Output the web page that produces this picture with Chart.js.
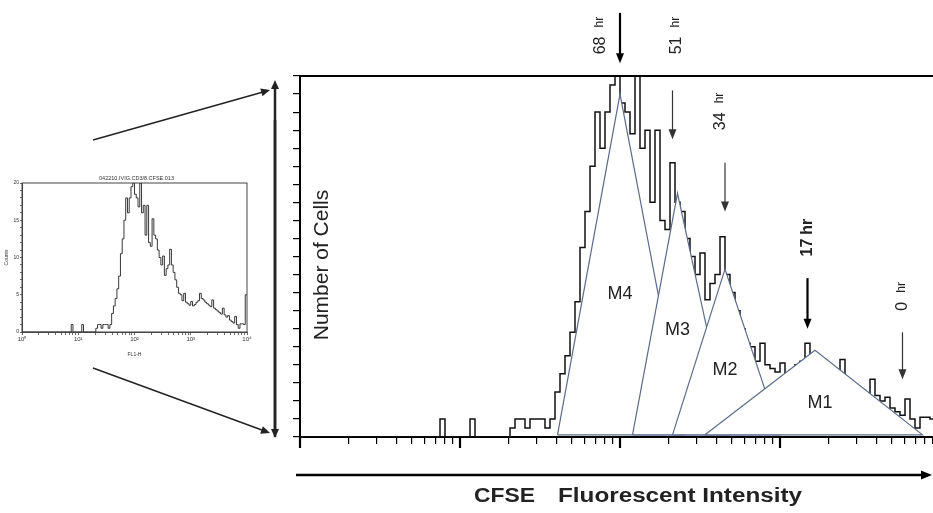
<!DOCTYPE html>
<html>
<head>
<meta charset="utf-8">
<script src="https://cdn.jsdelivr.net/npm/chart.js@4.4.1/dist/chart.umd.min.js"></script>
<style>
  html, body { margin: 0; padding: 0; background: #fff; }
  #wrap { position: relative; width: 933px; height: 513px; overflow: hidden; }
  #main { position: absolute; left: 0; top: 0; }
  #inset { position: absolute; left: 0; top: 165px; }
</style>
</head>
<body>
<div id="wrap">
  <canvas id="main" width="933" height="513"></canvas>
  <canvas id="inset" width="260" height="195"></canvas>
</div>
<script>
// histogram counts, one value per 2 channels (256 channel FL1 scale, 64 channels per decade)
var counts = [
  0, 0, 0, 0, 0, 0, 0, 0, 0, 0,
  0, 0, 0, 0, 0, 0, 0, 0, 0, 0,
  0, 0, 0, 0, 0, 0, 0, 0, 1, 0,
  0, 0, 0, 0, 1, 0, 0, 0, 0, 0,
  0, 0, 0.5, 1, 1, 0.5, 1, 1, 1, 0.5,
  1, 2.5, 3.5, 4.5, 5.8, 7.5, 10.5, 12.5, 15, 18,
  16, 18, 19.5, 20, 18.5, 18, 16.8, 20, 16, 17,
  13, 17, 12, 11.5, 15.2, 13, 12.5, 11, 10, 9,
  10.2, 7.6, 8.5, 9, 11.1, 9, 8, 7, 6, 5.2,
  5, 4.2, 5.2, 4, 3.8, 3.6, 4.1, 3.5, 3.7, 4,
  4.2, 5.2, 4.5, 4.3, 4, 3.8, 3.6, 3.4, 4.3, 3.2,
  3, 2.8, 2.6, 2.4, 3.2, 2.3, 2, 2.2, 1.6, 1.4,
  1.2, 2.1, 1, 0.5, 1.1, 1.1, 1, 5
];

// marker gates M4..M1 (channels) and their peak heights (counts)
var gateNames  = ["M4", "M3", "M2", "M1"];
var gateLeft   = [103, 133, 149, 162];
var gatePeak   = [128, 151, 170, 206];
var gateRight  = [154, 172, 192, 249];
var gateHeight = [19, 13.5, 9.3, 4.8];

// division time points
var timeLabels  = ["68", "51", "34", "17", "0"];
var timeChannel = [128, 149, 170, 203, 241];

var decadeLabels = ["10\u2070", "10\u00b9", "10\u00b2", "10\u00b3", "10\u2074"];

function cv(ch) { return Math.pow(10, ch / 64); }

var histPoints = counts.map(function(c, i) { return {x: cv(2 * i), y: c}; });
histPoints.push({x: cv(256), y: counts[counts.length - 1]});

var logTicks = [];
for (var d = 0; d < 4; d++) {
  for (var m = 1; m < 10; m++) logTicks.push({value: m * Math.pow(10, d)});
}
logTicks.push({value: 10000});

function isDecade(v) {
  var l = Math.log10(v);
  return Math.abs(l - Math.round(l)) < 1e-6;
}

var FONT = "'Liberation Sans', Arial, sans-serif";
var gateColor = "#5d6b8a";

// where things sit (label anchors in chart units)
var gateLabelPos = [[128, 7.9], [151, 5.9], [170, 3.7], [208, 1.9]];
var timeLabelPos = [[120.4, 21.2], [150.8, 21.2], [168.4, 17.0], [203.2, 10.0], [241.2, 7.0]];
var arrowSpan = [[23.5, 20.7], [19.2, 16.5], [15.2, 12.5], [8.8, 6.0], [5.8, 3.2]];
var heavy = [true, false, false, true, false];

function arrow(ctx, x1, y1, x2, y2, lw, hl, hw) {
  var ang = Math.atan2(y2 - y1, x2 - x1);
  ctx.lineWidth = lw;
  ctx.beginPath();
  ctx.moveTo(x1, y1);
  ctx.lineTo(x2 - Math.cos(ang) * hl * 0.8, y2 - Math.sin(ang) * hl * 0.8);
  ctx.stroke();
  ctx.beginPath();
  ctx.moveTo(x2, y2);
  ctx.lineTo(x2 - Math.cos(ang) * hl - Math.sin(ang) * hw / 2, y2 - Math.sin(ang) * hl + Math.cos(ang) * hw / 2);
  ctx.lineTo(x2 - Math.cos(ang) * hl + Math.sin(ang) * hw / 2, y2 - Math.sin(ang) * hl - Math.cos(ang) * hw / 2);
  ctx.closePath();
  ctx.fill();
}

function fitText(ctx, text, x, y, width) {
  var w = ctx.measureText(text).width;
  ctx.save();
  ctx.translate(x, y);
  ctx.scale(width / w, 1);
  ctx.fillText(text, 0, 0);
  ctx.restore();
}

var mainDecor = {
  id: "mainDecor",
  afterDatasetsDraw: function(chart) {
    var ctx = chart.ctx, xs = chart.scales.x, ys = chart.scales.y;
    ctx.save();
    ctx.fillStyle = "#222";
    ctx.font = "18px " + FONT;
    ctx.textAlign = "center";
    ctx.textBaseline = "middle";
    gateNames.forEach(function(n, i) {
      ctx.fillText(n, xs.getPixelForValue(cv(gateLabelPos[i][0])), ys.getPixelForValue(gateLabelPos[i][1]));
    });
    // longer ticks at the decades
    ctx.strokeStyle = "#000";
    ctx.lineWidth = 2.2;
    [1, 10, 100, 1000].forEach(function(v) {
      var px = Math.round(xs.getPixelForValue(v));
      ctx.beginPath();
      ctx.moveTo(px, chart.chartArea.bottom);
      ctx.lineTo(px, chart.chartArea.bottom + 11);
      ctx.stroke();
    });
    ctx.restore();
  },
  afterDraw: function(chart) {
    var ctx = chart.ctx, a = chart.chartArea, xs = chart.scales.x, ys = chart.scales.y;
    ctx.save();
    ctx.strokeStyle = "#000";
    ctx.fillStyle = "#000";
    // top frame
    ctx.lineWidth = 2;
    ctx.beginPath();
    ctx.moveTo(a.left - 1, a.top);
    ctx.lineTo(a.right, a.top);
    ctx.stroke();

    // y label inside the plot
    ctx.save();
    ctx.fillStyle = "#222";
    ctx.font = "21px " + FONT;
    ctx.translate(a.left + 22, 265);
    ctx.rotate(-Math.PI / 2);
    ctx.textAlign = "center";
    ctx.textBaseline = "middle";
    ctx.fillText("Number of Cells", 0, 0);
    ctx.restore();

    // time arrows + labels
    timeLabels.forEach(function(t, i) {
      var ax = xs.getPixelForValue(cv(timeChannel[i]));
      ctx.strokeStyle = heavy[i] ? "#000" : "#333";
      ctx.fillStyle = heavy[i] ? "#000" : "#333";
      arrow(ctx, ax, ys.getPixelForValue(arrowSpan[i][0]), ax, ys.getPixelForValue(arrowSpan[i][1]),
            heavy[i] ? 2.2 : 1.2, 10, 8);
      var lx = xs.getPixelForValue(cv(timeLabelPos[i][0]));
      var ly = ys.getPixelForValue(timeLabelPos[i][1]);
      ctx.save();
      ctx.fillStyle = "#222";
      ctx.translate(lx, ly);
      ctx.rotate(-Math.PI / 2);
      ctx.textAlign = "left";
      ctx.textBaseline = "middle";
      var bold = i === 3;
      ctx.font = (bold ? "bold " : "") + "16px " + FONT;
      ctx.fillText(t, 0, 0);
      var w = ctx.measureText(t).width;
      ctx.font = (bold ? "bold 16px " : "12px ") + FONT;
      ctx.fillText("hr", w + (bold ? 4 : 9), bold ? 0 : -1);
      ctx.restore();
    });

    // inset connectors
    ctx.strokeStyle = "#222";
    ctx.fillStyle = "#222";
    arrow(ctx, 275, 437, 275, 80, 2.5, 9, 8);
    arrow(ctx, 275, 120, 275, 438, 2.5, 9, 8);
    arrow(ctx, 93, 140, 270, 90, 1.4, 9, 8);
    arrow(ctx, 93, 368, 270, 433, 1.4, 9, 8);

    // x axis arrow + label
    ctx.strokeStyle = "#000";
    ctx.fillStyle = "#000";
    arrow(ctx, 296, 475, 932, 475, 2.5, 11, 9);
    ctx.fillStyle = "#222";
    ctx.font = "bold 20px " + FONT;
    ctx.textAlign = "left";
    ctx.textBaseline = "middle";
    fitText(ctx, "CFSE", 474, 496, 61);
    fitText(ctx, "Fluorescent Intensity", 558, 496, 244);
    ctx.restore();
  }
};

var datasets = [{
  data: histPoints,
  borderColor: "#111",
  borderWidth: 1.5,
  stepped: "before",
  pointRadius: 0,
  fill: false,
  order: 5
}];
gateNames.forEach(function(n, i) {
  datasets.push({
    label: n,
    data: [
      {x: cv(gateLeft[i]), y: 0.12},
      {x: cv(gatePeak[i]), y: gateHeight[i]},
      {x: cv(gateRight[i]), y: 0.12},
      {x: cv(gateLeft[i]), y: 0.12}
    ],
    borderColor: gateColor,
    borderWidth: 1.2,
    backgroundColor: "#fff",
    fill: "shape",
    pointRadius: 0,
    tension: 0,
    order: 4 - i
  });
});

new Chart(document.getElementById("main"), {
  type: "line",
  data: {datasets: datasets},
  options: {
    responsive: false,
    devicePixelRatio: 1,
    animation: false,
    layout: {padding: {left: 292, top: 76, right: 0, bottom: 68}},
    plugins: {legend: {display: false}, tooltip: {enabled: false}},
    scales: {
      x: {
        type: "logarithmic",
        min: 1,
        max: Math.pow(10, 633 / 160),
        afterBuildTicks: function(s) { s.ticks = logTicks.map(function(t) { return {value: t.value}; }); },
        afterFit: function(s) { s.height = 8; },
        ticks: {display: false},
        grid: {
          drawOnChartArea: false,
          tickLength: 7,
          color: "#000",
          lineWidth: 1.2
        },
        border: {color: "#000", width: 2}
      },
      y: {
        min: 0,
        max: 20,
        afterFit: function(s) { s.width = 8; },
        ticks: {display: false, stepSize: 1},
        grid: {drawOnChartArea: false, tickLength: 7, color: "#000", lineWidth: 1.2},
        border: {color: "#000", width: 2}
      }
    }
  },
  plugins: [mainDecor]
});

var insetDecor = {
  id: "insetDecor",
  afterDraw: function(chart) {
    var ctx = chart.ctx, a = chart.chartArea;
    ctx.save();
    ctx.strokeStyle = "#444";
    ctx.lineWidth = 1;
    ctx.strokeRect(a.left, a.top, a.right - a.left, a.bottom - a.top);
    ctx.fillStyle = "#333";
    ctx.font = "5.5px " + FONT;
    ctx.textAlign = "center";
    ctx.textBaseline = "bottom";
    ctx.fillText("042210.IVIG.CD3/8.CFSE.013", (a.left + a.right) / 2 + 2, a.top - 2);
    ctx.restore();
  }
};

new Chart(document.getElementById("inset"), {
  type: "line",
  data: {datasets: [{
    data: histPoints,
    borderColor: "#222",
    borderWidth: 0.9,
    stepped: "before",
    pointRadius: 0,
    fill: false
  }]},
  options: {
    responsive: false,
    devicePixelRatio: 1,
    animation: false,
    layout: {padding: {left: 4, top: 18, right: 13, bottom: 2}},
    plugins: {legend: {display: false}, tooltip: {enabled: false}},
    scales: {
      x: {
        type: "logarithmic",
        min: 1,
        max: 10000,
        afterBuildTicks: function(s) { s.ticks = logTicks.map(function(t) { return {value: t.value}; }); },
        afterFit: function(s) { s.height = 26; },
        ticks: {
          autoSkip: false,
          maxRotation: 0,
          padding: 1,
          color: "#333",
          font: {size: 6, family: FONT},
          callback: function(v) {
            return isDecade(v) ? decadeLabels[Math.round(Math.log10(v))] : "";
          }
        },
        title: {display: true, text: "FL1-H", color: "#333", font: {size: 5, family: FONT}, padding: 0},
        grid: {drawOnChartArea: false, tickLength: 3, color: "#444", lineWidth: 0.8},
        border: {color: "#444", width: 1}
      },
      y: {
        min: 0,
        max: 20,
        afterFit: function(s) { s.width = 18; },
        ticks: {
          stepSize: 1,
          autoSkip: false,
          padding: 1,
          color: "#333",
          font: {size: 5, family: FONT},
          callback: function(v) { return v % 5 === 0 ? String(v) : ""; }
        },
        title: {display: true, text: "Counts", color: "#333", font: {size: 5, family: FONT}, padding: 0},
        grid: {drawOnChartArea: false, tickLength: 2, color: "#444", lineWidth: 0.8},
        border: {color: "#444", width: 1}
      }
    }
  },
  plugins: [insetDecor]
});
</script>
</body>
</html>
